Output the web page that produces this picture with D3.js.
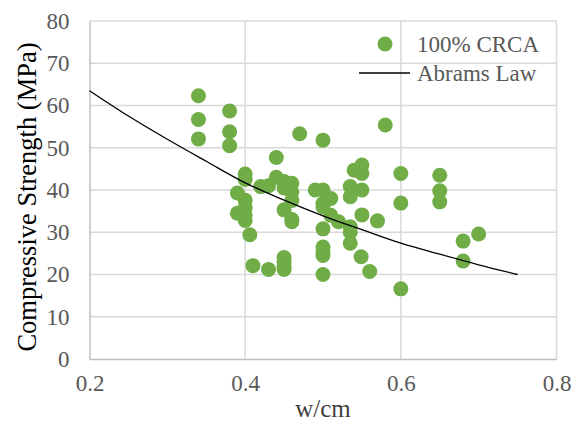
<!DOCTYPE html>
<html>
<head>
<meta charset="utf-8">
<script src="https://cdn.jsdelivr.net/npm/d3@7"></script>
<style>
  html, body { margin: 0; padding: 0; background: #fff; }
  svg { display: block; }
</style>
</head>
<body>
<svg id="chart" width="586" height="424"></svg>
<script>
// 100% CRCA mixes: water/cementitious ratio and compressive strength (MPa)
const crcaWcm = [
  0.34, 0.34, 0.34,
  0.38, 0.38, 0.38,
  0.39, 0.39,
  0.40, 0.40, 0.40, 0.40, 0.40, 0.40, 0.406,
  0.41,
  0.42,
  0.43, 0.43,
  0.44, 0.44,
  0.45, 0.45, 0.45, 0.45, 0.45, 0.45, 0.45,
  0.46, 0.46, 0.46, 0.46, 0.46,
  0.47,
  0.49,
  0.50, 0.50, 0.50, 0.50, 0.50, 0.50, 0.50, 0.50, 0.50,
  0.51, 0.51,
  0.52,
  0.535, 0.535, 0.535, 0.535, 0.535,
  0.54,
  0.55, 0.55, 0.55, 0.55,
  0.549,
  0.56,
  0.57,
  0.58,
  0.60, 0.60, 0.60,
  0.65, 0.65, 0.65,
  0.68, 0.68,
  0.70
];
const crcaStrength = [
  62.3, 56.7, 52.1,
  58.7, 53.8, 50.5,
  39.3, 34.5,
  43.8, 42.5, 37.6, 35.8, 34.0, 32.8, 29.4,
  22.1,
  40.8,
  41.0, 21.2,
  47.7, 43.0,
  42.0, 40.5, 35.3, 24.0, 23.0, 22.0, 21.2,
  41.6, 39.5, 37.5, 33.0, 32.5,
  53.3,
  40.0,
  51.8, 40.0, 36.8, 36.0, 30.8, 26.5, 25.5, 24.5, 20.0,
  38.0, 34.0,
  32.5,
  40.8, 38.4, 31.3, 30.0, 27.4,
  44.7,
  45.9, 43.9, 40.0, 34.1,
  24.2,
  20.7,
  32.7,
  55.4,
  43.9, 36.9, 16.6,
  43.5, 39.8, 37.2,
  27.9, 23.2,
  29.6
];

// Abrams' law curve, sampled every 0.05 w/cm
const abramsWcm = [0.20, 0.25, 0.30, 0.35, 0.40, 0.45, 0.50, 0.55, 0.60, 0.65, 0.70, 0.75];
const abramsStrength = [63.5, 57.5, 52.0, 46.8, 41.7, 37.6, 33.9, 30.6, 27.4, 24.8, 22.3, 20.0];

const xTicks = [0.2, 0.4, 0.6, 0.8];
const yTicks = [0, 10, 20, 30, 40, 50, 60, 70, 80];

const seriesNames = ["100% CRCA", "Abrams Law"];

const svg = d3.select("#chart");
const margin = { left: 89.5, right: 29.5, top: 21, bottom: 65 };
const W = 586, H = 424;

const x = d3.scaleLinear().domain([0.2, 0.8]).range([margin.left, W - margin.right]);
const y = d3.scaleLinear().domain([0, 80]).range([H - margin.bottom, margin.top]);

const serif = "'Liberation Serif', 'Times New Roman', serif";

// gridlines
svg.append("g")
  .selectAll("line.h")
  .data(yTicks.filter(d => d > 0))
  .join("line")
  .attr("x1", x(0.2)).attr("x2", x(0.8))
  .attr("y1", d => y(d)).attr("y2", d => y(d))
  .attr("stroke", "#d9d9d9").attr("stroke-width", 1.5);

svg.append("g")
  .selectAll("line.v")
  .data(xTicks.filter(d => d > 0.2))
  .join("line")
  .attr("x1", d => x(d)).attr("x2", d => x(d))
  .attr("y1", y(0)).attr("y2", y(80))
  .attr("stroke", "#d9d9d9").attr("stroke-width", 1.5);

// axes
const xAxis = svg.append("g")
  .attr("transform", `translate(0,${y(0)})`)
  .call(d3.axisBottom(x).tickValues(xTicks).tickSize(0).tickPadding(16).tickFormat(d3.format(".1f")));
const yAxis = svg.append("g")
  .attr("transform", `translate(${x(0.2)},0)`)
  .call(d3.axisLeft(y).tickValues(yTicks).tickSize(0).tickPadding(20));

[xAxis, yAxis].forEach(g => {
  g.select(".domain").attr("stroke", "#bfbfbf").attr("stroke-width", 1.5);
  g.selectAll("text")
    .attr("fill", "#595959")
    .style("font-family", serif)
    .style("font-size", "23px");
});
xAxis.selectAll("text").attr("dy", "0.71em");

// axis titles
svg.append("text")
  .attr("x", (x(0.2) + x(0.8)) / 2)
  .attr("y", 417)
  .attr("text-anchor", "middle")
  .style("font-family", serif)
  .style("font-size", "25px")
  .attr("fill", "#404040")
  .text("w/cm");

svg.append("text")
  .attr("transform", `translate(36,${(y(0) + y(80)) / 2 + 7}) rotate(-90)`)
  .attr("text-anchor", "middle")
  .style("font-family", serif)
  .style("font-size", "26.5px")
  .attr("fill", "#000")
  .text("Compressive Strength (MPa)");

// scatter points
const points = crcaWcm.map((w, i) => ({ w, s: crcaStrength[i] }));
svg.append("g")
  .selectAll("circle")
  .data(points)
  .join("circle")
  .attr("cx", d => x(d.w))
  .attr("cy", d => y(d.s))
  .attr("r", 7.5)
  .attr("fill", "#70ad47");

// Abrams' law line
const curve = abramsWcm.map((w, i) => ({ w, s: abramsStrength[i] }));
svg.append("path")
  .datum(curve)
  .attr("fill", "none")
  .attr("stroke", "#000")
  .attr("stroke-width", 1.3)
  .attr("d", d3.line().x(d => x(d.w)).y(d => y(d.s)).curve(d3.curveMonotoneX));

// legend
const legend = svg.append("g");
legend.append("circle")
  .attr("cx", 385).attr("cy", 44).attr("r", 7.5).attr("fill", "#70ad47");
legend.append("line")
  .attr("x1", 359).attr("x2", 410).attr("y1", 73).attr("y2", 73)
  .attr("stroke", "#000").attr("stroke-width", 1.3);
legend.selectAll("text")
  .data(seriesNames)
  .join("text")
  .attr("x", 417)
  .attr("y", (d, i) => 44 + i * 29)
  .attr("dy", "0.35em")
  .style("font-family", serif)
  .style("font-size", "23px")
  .attr("fill", "#595959")
  .text(d => d);
</script>
</body>
</html>
